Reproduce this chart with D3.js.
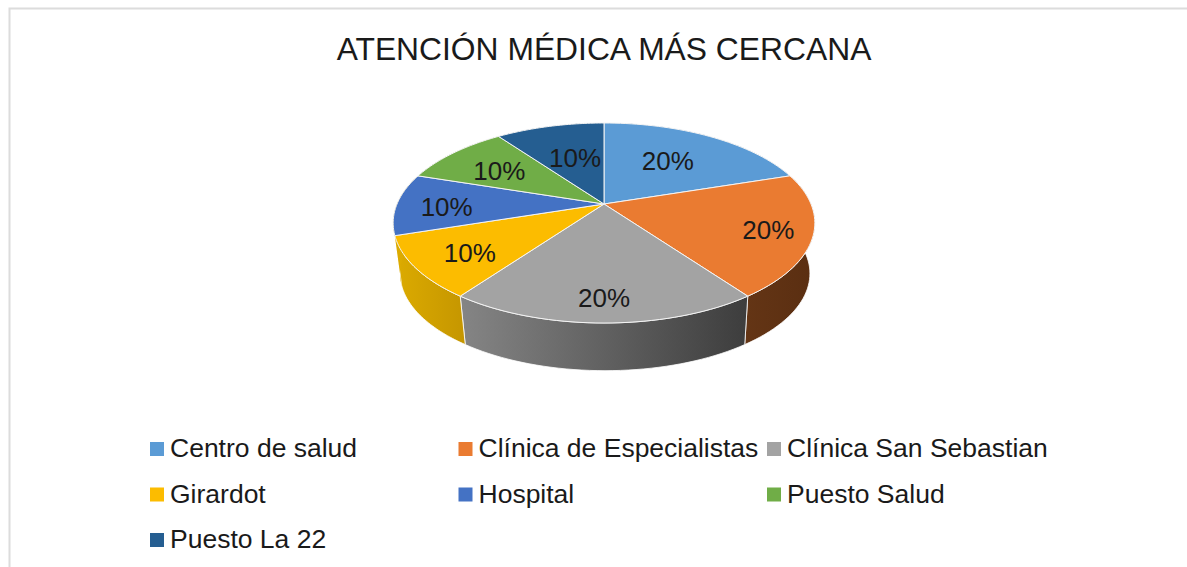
<!DOCTYPE html>
<html>
<head>
<meta charset="utf-8">
<script src="https://d3js.org/d3.v7.min.js"></script>
<style>
  html, body { margin: 0; padding: 0; background: #fff; }
  svg { display: block; }
  text { font-family: "Liberation Sans", Arial, sans-serif; fill: #1a1a1a; }
</style>
</head>
<body>
<svg class="piechart" width="1187" height="567"></svg>
<script>
var title = 'ATENCIÓN MÉDICA MÁS CERCANA'
var categories = ['Centro de salud', 'Clínica de Especialistas', 'Clínica San Sebastian', 'Girardot', 'Hospital', 'Puesto Salud', 'Puesto La 22']
var values = [20, 20, 20, 10, 10, 10, 10]
var colors = ['#5b9bd5', '#ea7b31', '#a3a3a3', '#fcbc00', '#4472c4', '#70ad47', '#255e91']

var svg = d3.select('.piechart')

// frame of the chart, only left and top show in the crop
svg.append('path')
  .attr('d', 'M9.5,567V8.5H1187')
  .attr('fill', 'none')
  .attr('stroke', '#dcdcdc')
  .attr('stroke-width', 2)

svg.append('text')
  .attr('x', 604)
  .attr('y', 60)
  .attr('text-anchor', 'middle')
  .style('font-size', '31.8px')
  .text(title)

// tilted disc: unit circle projected with a bit of perspective
const cx = 604
const cy = 204
const a = 207
const b = 96.4
const k = 0.19
// floor of the disc is a little smaller and lower than the top
const floorX = 605
const floorY = 255
const floorScale = 0.972

function project(r, angle) {
  var u = r * Math.sin(angle)
  var v = r * Math.cos(angle)
  var w = 1 + k * v
  return [cx + (a * u) / w, cy - (b * v) / w]
}

function projectFloor(angle) {
  var p = project(1, angle)
  return [floorX + (p[0] - cx) * floorScale, floorY + (p[1] - cy) * floorScale]
}

function rimAngles(d) {
  var n = 40
  return d3.range(n + 1).map(function(i) {
    return d.startAngle + ((d.endAngle - d.startAngle) * i) / n
  })
}

var pie = d3.pie().sort(null).value(function(d) { return d })
var slices = pie(values)
var line = d3.line()

// side wall shading per slice, [left, right]
// Hospital only shows a sliver next to Girardot, the original paints it the same yellow
var wallShades = [
  ['#44739f', '#44739f'],
  ['#643515', '#5a2e11'],
  ['#858585', '#3d3d3d'],
  ['#dcab00', '#c59600'],
  ['#dcab00', '#dcab00'],
  ['#4d7a31', '#4d7a31'],
  ['#1a4266', '#1a4266']
]

var defs = svg.append('defs')
wallShades.forEach(function(shade, i) {
  var grad = defs.append('linearGradient').attr('id', 'wall' + i)
  grad.append('stop').attr('offset', '0%').attr('stop-color', shade[0])
  grad.append('stop').attr('offset', '100%').attr('stop-color', shade[1])
})

// walls first, the top face hides the back part of them
svg.append('g')
  .selectAll('path')
  .data(slices)
  .enter()
  .append('path')
  .attr('d', function(d) {
    var angles = rimAngles(d)
    var top = angles.map(function(t) { return project(1, t) })
    var floor = angles.slice().reverse().map(projectFloor)
    return line(top.concat(floor)) + 'Z'
  })
  .attr('fill', function(d, i) { return 'url(#wall' + i + ')' })
  .attr('stroke', function(d, i) { return i == 4 ? 'none' : '#fff' })
  .attr('stroke-width', 0.8)

svg.append('g')
  .selectAll('path')
  .data(slices)
  .enter()
  .append('path')
  .attr('d', function(d) {
    var rim = rimAngles(d).map(function(t) { return project(1, t) })
    return line([[cx, cy]].concat(rim)) + 'Z'
  })
  .attr('fill', function(d, i) { return colors[i] })
  .attr('stroke', '#f4f4f4')
  .attr('stroke-width', 1)

// labels sit at different depths inside each slice
var labelRadius = [0.6, 0.8, 0.82, 0.72, 0.76, 0.7, 0.55]
var labelNudge = [[-3, 0], [-1, 1], [0, 0], [-3, 5], [0, 3], [4, 4], [3, 0]]

svg.append('g')
  .selectAll('text')
  .data(slices)
  .enter()
  .append('text')
  .attr('x', function(d, i) {
    return project(labelRadius[i], (d.startAngle + d.endAngle) / 2)[0] + labelNudge[i][0]
  })
  .attr('y', function(d, i) {
    return project(labelRadius[i], (d.startAngle + d.endAngle) / 2)[1] + labelNudge[i][1]
  })
  .attr('dy', '0.35em')
  .attr('text-anchor', 'middle')
  .style('font-size', '26px')
  .text(function(d) { return d.value + '%' })

// legend, three columns
var legendX = d3.scalePoint().domain([0, 1, 2]).range([150, 767])
var legendY = d3.scalePoint().domain([0, 1, 2]).range([449, 540])

var legend = svg.append('g')
  .selectAll('g')
  .data(categories)
  .enter()
  .append('g')
  .attr('transform', function(d, i) {
    return 'translate(' + legendX(i % 3) + ',' + legendY(Math.floor(i / 3)) + ')'
  })

legend.append('rect')
  .attr('y', -7)
  .attr('width', 14)
  .attr('height', 14)
  .attr('fill', function(d, i) { return colors[i] })

legend.append('text')
  .attr('x', 20)
  .attr('y', 8)
  .style('font-size', '26.5px')
  .text(function(d) { return d })
</script>
</body>
</html>
